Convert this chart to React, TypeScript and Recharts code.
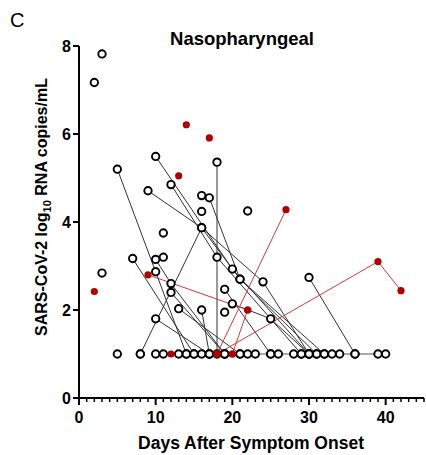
import { ScatterChart, Scatter, XAxis, YAxis } from 'recharts';

// serial samples, one track per patient: [day, log10 copies/mL]
const blackTracks: number[][][] = [
  [[5, 5.2], [14, 1]],
  [[7, 3.17], [15, 1]],
  [[8, 1], [16, 3.87], [21, 2.7], [32, 1]],
  [[9, 4.71], [16, 3.87], [24, 2.64], [30, 1]],
  [[10, 5.49], [20, 2.93], [30, 1]],
  [[10, 1.8], [17, 1]],
  [[10, 3.15], [12, 2.6], [19, 1]],
  [[12, 4.85], [18, 3.2], [29, 1]],
  [[17, 4.55], [21, 2.7], [31, 1]],
  [[18, 5.36], [18, 1]],
  [[12, 2.4], [19, 1]],
  [[13, 2.03], [21, 1]],
  [[16, 2.0], [17, 1]],
  [[19, 2.47], [25, 1]],
  [[20, 2.14], [25, 1.8], [30, 1]],
  [[30, 2.74], [36, 1]],
];

const redTracks: number[][][] = [
  [[9, 2.8], [22, 2.0]],
  [[18, 1], [27, 4.28]],
  [[18, 1], [39, 3.1], [42, 2.44]],
  [[20, 1], [22, 2.0]],
  [[12, 1], [18, 1]],
];

const blackSingles: number[][] = [
  [2, 7.17], [3, 7.82], [3, 2.84], [10, 2.87], [11, 3.2], [11, 3.75],
  [16, 4.6], [16, 4.24], [19, 1.95], [22, 4.25],
];

const redSingles: number[][] = [
  [2, 2.42], [13, 5.05], [14, 6.21], [17, 5.91], [20, 1],
];

// samples below the detection limit, drawn at 1
const negativeDays = [5, 8, 10, 11, 13, 14, 15, 16, 17, 19, 21, 22, 23, 25, 26, 28, 29, 30, 31, 32, 33, 34, 36, 39, 40];
const baselineDays = [10, 40];

const xMajor = [0, 10, 20, 30, 40];
const xMinor = Array.from({ length: 46 }, (_, i) => i);
const yTicks = [0, 2, 4, 6, 8];

const toPts = (arr: number[][]) => arr.map(([x, y]) => ({ x, y }));

const FONT = '"Liberation Sans", Arial, sans-serif';

const OpenDot = (p: any) => (
  <circle cx={p.cx} cy={p.cy} r={3.7} fill="#fff" stroke="#000" strokeWidth={1.9} />
);
const RedDot = (p: any) => <circle cx={p.cx} cy={p.cy} r={3.6} fill="#b00000" />;
const NoDot = () => <g />;

const XTick = ({ x, y, payload }: any) => {
  const major = xMajor.includes(payload.value);
  return (
    <g>
      <line x1={x} x2={x} y1={y} y2={y + (major ? 7 : 4)} stroke="#000" strokeWidth={major ? 2 : 1.5} />
      {major && (
        <text x={x} y={y + 25} textAnchor="middle" fontSize={16} fontWeight="bold" fontFamily={FONT} fill="#000">
          {payload.value}
        </text>
      )}
    </g>
  );
};

export default function App() {
  const openPts = [
    ...blackTracks.flat(),
    ...blackSingles,
    ...negativeDays.map((d) => [d, 1]),
  ];
  const redPts = [...redTracks.flat(), ...redSingles];

  return (
    <div style={{ position: 'absolute', left: 0, top: 0, width: 426, height: 455, background: '#fff' }}>
      <ScatterChart width={426} height={455} margin={{ top: 46, right: 2, bottom: 0, left: 0 }}>
        <XAxis
          type="number"
          dataKey="x"
          domain={[0, 45]}
          ticks={xMinor}
          interval={0}
          height={57}
          tickSize={0}
          tickMargin={0}
          tickLine={false}
          tick={<XTick />}
          axisLine={{ stroke: '#000', strokeWidth: 2 }}
        />
        <YAxis
          type="number"
          dataKey="y"
          domain={[0, 8]}
          ticks={yTicks}
          width={79}
          tickSize={6}
          tickLine={{ stroke: '#000', strokeWidth: 2 }}
          axisLine={{ stroke: '#000', strokeWidth: 2 }}
          tick={{ fill: '#000', fontSize: 16, fontWeight: 'bold', fontFamily: FONT }}
        />
        <Scatter
          data={toPts(baselineDays.map((d) => [d, 1]))}
          line={{ stroke: '#555', strokeWidth: 1.2 }}
          shape={NoDot}
          isAnimationActive={false}
        />
        {blackTracks.map((t, i) => (
          <Scatter
            key={'b' + i}
            data={toPts(t)}
            line={{ stroke: '#333', strokeWidth: 1 }}
            shape={NoDot}
            isAnimationActive={false}
          />
        ))}
        {redTracks.map((t, i) => (
          <Scatter
            key={'r' + i}
            data={toPts(t)}
            line={{ stroke: '#cc3a3a', strokeWidth: 1 }}
            shape={NoDot}
            isAnimationActive={false}
          />
        ))}
        <Scatter data={toPts(openPts)} shape={OpenDot} isAnimationActive={false} />
        <Scatter data={toPts(redPts)} shape={RedDot} isAnimationActive={false} />
      </ScatterChart>
      <svg width={426} height={455} style={{ position: 'absolute', left: 0, top: 0, pointerEvents: 'none' }}>
        <text x={10} y={27} fontSize={20} fontFamily={FONT} fill="#000">C</text>
        <text x={242} y={45} textAnchor="middle" fontSize={18.5} fontWeight="bold" fontFamily={FONT} fill="#000">
          Nasopharyngeal
        </text>
        <text
          transform="translate(47,207) rotate(-90)"
          textAnchor="middle"
          fontSize={16}
          fontWeight="bold"
          fontFamily={FONT}
          fill="#000"
        >
          SARS-CoV-2 log<tspan fontSize={11} dy={4}>10</tspan>
          <tspan dy={-4}> RNA copies/mL</tspan>
        </text>
        <text x={251} y={449} textAnchor="middle" fontSize={17.5} fontWeight="bold" fontFamily={FONT} fill="#000">
          Days After Symptom Onset
        </text>
      </svg>
    </div>
  );
}
